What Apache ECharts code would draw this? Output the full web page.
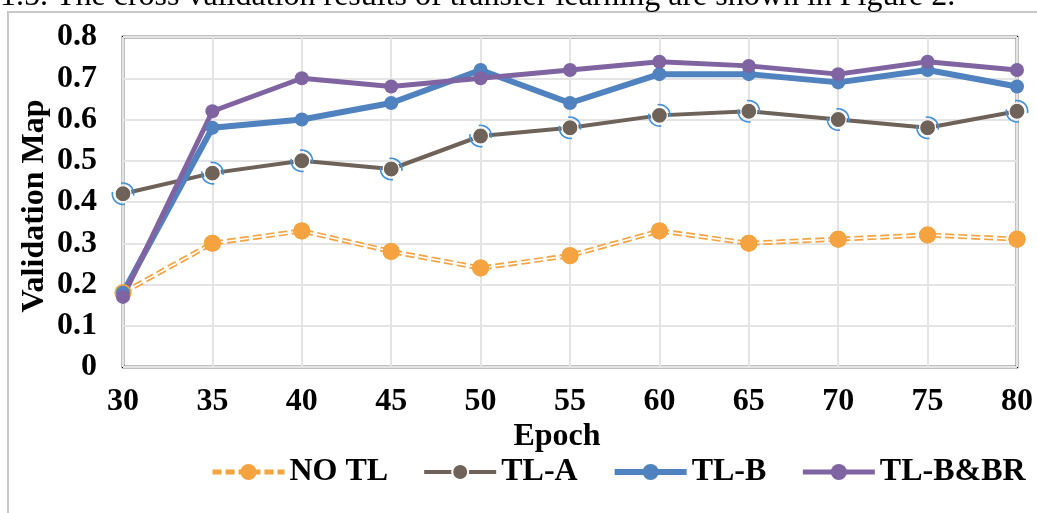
<!DOCTYPE html>
<html>
<head>
<meta charset="utf-8">
<script src="https://cdn.jsdelivr.net/npm/echarts@6/dist/echarts.min.js"></script>
<style>
html,body{margin:0;padding:0;background:#fff;}
#chart{width:1037px;height:513px;}
</style>
</head>
<body>
<div id="chart"></div>
<script>
// ---- data ----
const epochs = [30, 35, 40, 45, 50, 55, 60, 65, 70, 75, 80];
const noTL   = [0.18, 0.30, 0.33, 0.28, 0.24, 0.27, 0.33, 0.30, 0.31, 0.32, 0.31];
const tlA    = [0.42, 0.47, 0.50, 0.48, 0.56, 0.58, 0.61, 0.62, 0.60, 0.58, 0.62];
const tlB    = [0.18, 0.58, 0.60, 0.64, 0.72, 0.64, 0.71, 0.71, 0.69, 0.72, 0.68];
const tlBBR  = [0.17, 0.62, 0.70, 0.68, 0.70, 0.72, 0.74, 0.73, 0.71, 0.74, 0.72];
const seriesNames = ['NO TL', 'TL-A', 'TL-B', 'TL-B&BR'];
const xTitle = 'Epoch';
const yTitle = 'Validation Map';
const caption = '1.5. The cross validation results of transfer learning are shown in Figure 2.';

const pair = (ys) => epochs.map((x, i) => [x, ys[i]]);

const FONT = "'Liberation Serif','Times New Roman',serif";
const FS = 32;
const ORANGE = '#F4A340', BROWN = '#6E6259', BLUE = '#4F82BE', PURPLE = '#8064A2', RING = '#4391D9';
const DASH = [9, 4];
const ringPath = 'path://M9.09 0.17 A11 11 0 0 1 21.83 12.91 L20.36 12.65 A9.5 9.5 0 0 0 9.35 1.64 Z M12.91 21.83 A11 11 0 0 1 0.17 9.09 L1.64 9.35 A9.5 9.5 0 0 0 12.65 20.36 Z';

const chart = echarts.init(document.getElementById('chart'), null, {renderer: 'canvas'});
chart.setOption({
  animation: false,
  backgroundColor: '#fff',
  grid: {left: 123, right: 20, top: 37, bottom: 146, show: true, borderColor: '#000', borderWidth: 2.5, containLabel: false},
  xAxis: {
    type: 'value', min: 30, max: 80, interval: 5,
    axisLine: {show: false}, axisTick: {show: false},
    axisLabel: {fontFamily: FONT, fontWeight: 'bold', fontSize: FS, color: '#000', margin: 19},
    splitLine: {show: true, lineStyle: {color: '#e4e4e4', width: 2}}
  },
  yAxis: {
    type: 'value', min: 0, max: 0.8, interval: 0.1,
    axisLine: {show: false}, axisTick: {show: false},
    axisLabel: {fontFamily: FONT, fontWeight: 'bold', fontSize: FS, color: '#000', margin: 26},
    splitLine: {show: true, lineStyle: {color: '#e4e4e4', width: 2}}
  },
  legend: {
    data: seriesNames,
    left: 205, top: 451, width: 900,
    itemWidth: 72, itemHeight: 20, itemGap: 34,
    lineStyle: {width: 'inherit'},
    textStyle: {fontFamily: FONT, fontWeight: 'bold', fontSize: FS, color: '#000'}
  },
  graphic: [
    {type: 'rect', shape: {x: 8, y: 12, width: 1200, height: 700}, style: {fill: 'none', stroke: '#c8c8c8', lineWidth: 2}, z: -10},
    {type: 'text', left: 0, top: -19, style: {text: caption, font: FS + 'px ' + FONT, fill: '#000'}},
    {type: 'text', x: 35, y: 206, rotation: Math.PI / 2, style: {text: yTitle, font: 'bold ' + FS + 'px ' + FONT, fill: '#000', align: 'center', verticalAlign: 'middle'}},
    {type: 'text', x: 557, y: 437, style: {text: xTitle, font: 'bold ' + FS + 'px ' + FONT, fill: '#000', align: 'center', verticalAlign: 'middle'}}
  ],
  series: [
    {name: 'NO TL', type: 'line', data: pair(noTL), symbol: 'circle', symbolSize: 17,
     itemStyle: {color: ORANGE}, lineStyle: {color: ORANGE, width: 5, type: DASH}},
    {name: 'noTL-gap', type: 'line', data: pair(noTL), showSymbol: false, silent: true,
     lineStyle: {color: '#fff', width: 1.6, type: DASH}},
    {name: 'noTL-marks', type: 'line', data: pair(noTL), symbol: 'circle', symbolSize: 17, silent: true,
     itemStyle: {color: ORANGE}, lineStyle: {width: 0, opacity: 0}},
    {name: 'TL-A', type: 'line', data: pair(tlA), symbol: 'circle', symbolSize: 16,
     itemStyle: {color: BROWN, borderColor: '#fff', borderWidth: 1.2}, lineStyle: {color: BROWN, width: 4}},
    {name: 'TL-A-ring', type: 'line', data: pair(tlA), symbol: ringPath, symbolSize: 23, silent: true,
     itemStyle: {color: RING}, lineStyle: {width: 0, opacity: 0}},
    {name: 'TL-B', type: 'line', data: pair(tlB), symbol: 'circle', symbolSize: 14,
     itemStyle: {color: BLUE}, lineStyle: {color: BLUE, width: 6}},
    {name: 'TL-B&BR', type: 'line', data: pair(tlBBR), symbol: 'circle', symbolSize: 14,
     itemStyle: {color: PURPLE}, lineStyle: {color: PURPLE, width: 5}}
  ]
});
</script>
</body>
</html>
